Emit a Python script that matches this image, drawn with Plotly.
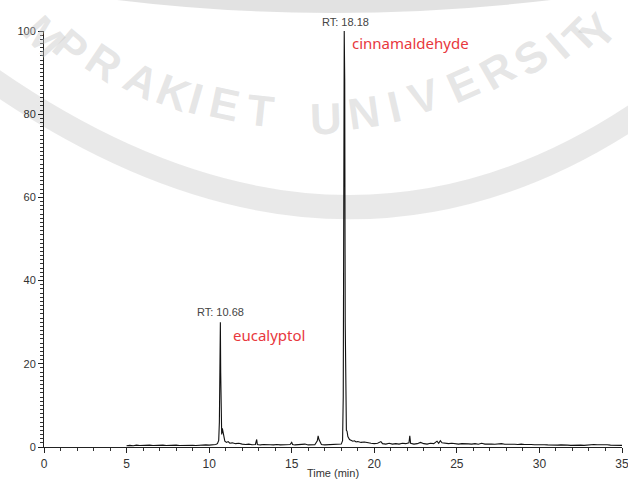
import plotly.graph_objects as go

# Retention time (min) and relative abundance (%)
time_min = [5.0, 5.2, 5.4, 5.6, 5.8, 6.0, 6.2, 6.4, 6.6, 6.8, 7.0, 7.2, 7.4, 7.6, 7.8,
            8.0, 8.2, 8.4, 8.6, 8.8, 9.0, 9.2, 9.4, 9.6, 9.8, 10.0, 10.2, 10.4, 10.5,
            10.58, 10.62, 10.66, 10.68, 10.70, 10.73, 10.76, 10.8, 10.84, 10.88, 10.95,
            11.05, 11.15, 11.25, 11.4, 11.6, 11.8, 12.0, 12.2, 12.4, 12.6, 12.8, 12.88,
            12.92, 13.1, 13.3, 13.5, 13.7, 13.9, 14.1, 14.3, 14.5, 14.7, 14.9, 15.0,
            15.05, 15.2, 15.4, 15.6, 15.8, 16.0, 16.2, 16.4, 16.55, 16.6, 16.65, 16.72,
            16.8, 17.0, 17.2, 17.4, 17.6, 17.8, 18.0, 18.08, 18.12, 18.15, 18.18, 18.21,
            18.24, 18.27, 18.31, 18.35, 18.4, 18.5, 18.6, 18.7, 18.8, 18.9, 19.0, 19.2,
            19.4, 19.6, 19.8, 20.0, 20.2, 20.4, 20.5, 20.7, 20.9, 21.1, 21.3, 21.5, 21.7,
            21.9, 22.1, 22.15, 22.2, 22.4, 22.6, 22.8, 23.0, 23.2, 23.4, 23.6, 23.8, 23.9,
            24.0, 24.1, 24.3, 24.5, 24.7, 24.9, 25.1, 25.3, 25.5, 25.7, 25.9, 26.1, 26.3,
            26.5, 26.7, 26.9, 27.1, 27.3, 27.5, 27.7, 27.9, 28.1, 28.3, 28.5, 28.7, 28.9,
            29.1, 29.3, 29.5, 29.7, 29.9, 30.1, 30.3, 30.5, 30.7, 30.9, 31.1, 31.3, 31.5,
            31.7, 31.9, 32.1, 32.3, 32.5, 32.7, 32.9, 33.1, 33.3, 33.5, 33.7, 33.9, 34.1,
            34.3, 34.5, 34.7, 35.0]
abundance = [0.3, 0.4, 0.3, 0.45, 0.35, 0.4, 0.3, 0.45, 0.35, 0.4, 0.3, 0.45, 0.35, 0.4, 0.3,
             0.45, 0.35, 0.4, 0.3, 0.45, 0.4, 0.35, 0.45, 0.4, 0.5, 0.45, 0.5, 0.6, 0.8,
             1.6, 6.0, 22.0, 30.0, 18.0, 6.0, 3.0, 4.5, 3.5, 2.2, 1.4,
             1.1, 1.3, 0.9, 1.0, 0.8, 0.9, 0.7, 0.6, 0.7, 0.55, 0.6, 1.8,
             0.6, 0.5, 0.6, 0.5, 0.55, 0.5, 0.6, 0.5, 0.55, 0.5, 0.6, 1.1,
             0.6, 0.5, 0.6, 0.55, 0.7, 0.5, 0.6, 0.55, 1.5, 2.7, 1.8, 1.0,
             0.6, 0.5, 0.55, 0.5, 0.6, 0.55, 0.7, 1.5, 12.0, 55.0, 100.0, 88.0,
             30.0, 8.0, 4.0, 3.8, 2.5, 1.8, 1.6, 1.4, 1.5, 1.2, 1.3, 1.1,
             1.2, 1.0, 0.9, 0.8, 0.9, 1.3, 0.8, 0.7, 0.9, 0.7, 0.8, 0.7, 0.9,
             0.8, 1.0, 2.7, 0.9, 0.7, 0.8, 1.1, 0.8, 0.7, 0.9, 0.8, 1.4, 0.9,
             1.5, 1.0, 0.9, 0.8, 0.9, 0.8, 0.7, 0.8, 0.7, 0.75, 0.7, 0.8, 0.65,
             0.9, 0.7, 0.75, 0.7, 0.65, 0.7, 0.8, 0.65, 0.7, 0.6, 0.65, 0.6, 0.7,
             0.6, 0.65, 0.6, 0.55, 0.6, 0.5, 0.55, 0.5, 0.45, 0.5, 0.45, 0.5, 0.4,
             0.45, 0.4, 0.45, 0.4, 0.45, 0.4, 0.5, 0.55, 0.6, 0.55, 0.6, 0.5, 0.55,
             0.45, 0.4, 0.45, 0.4]

x_tick_step = 5
y_tick_step = 20

peak_rt = [10.68, 18.18]
peak_height = [30, 100]
peak_labels = ["RT: 10.68", "RT: 18.18"]
peak_names = ["eucalyptol", "cinnamaldehyde"]

# layout geometry (pixels)
W, H = 628, 479
L, R, T, B = 44, 6, 31, 32
pw, ph = W - L - R, H - T - B


def px(x):
    return (x - L) / pw


def py(y):
    return (H - B - y) / ph


fig = go.Figure()
fig.add_trace(go.Scatter(x=time_min, y=abundance, mode="lines",
                         line=dict(color="#111111", width=1.1), hoverinfo="skip"))

annotations = []
# faint watermark letters (drawn first so they sit underneath)
wm = [("M", 44, 36, 48), ("P", 70, 47, 40), ("R", 104, 63, 34), ("A", 142, 80, 27),
      ("K", 174, 92, 21), ("I", 196, 98, 16), ("E", 224, 103, 12), ("T", 260, 110, 6),
      ("U", 326, 118, -2), ("N", 364, 113, -8), ("I", 394, 106, -13), ("V", 424, 96, -18),
      ("E", 462, 84, -24), ("R", 497, 70, -30), ("S", 530, 57, -36), ("I", 558, 46, -41),
      ("T", 580, 36, -45), ("Y", 598, 32, -50)]
for ch, x, y, a in wm:
    annotations.append(dict(x=px(x), y=py(y), xref="paper", yref="paper", text="<b>" + ch + "</b>",
                            showarrow=False, textangle=a, xanchor="center", yanchor="middle",
                            font=dict(family="Liberation Sans", size=44, color="rgba(195,195,195,0.42)")))

# RT labels
annotations.append(dict(x=peak_rt[0], y=peak_height[0] + 0.6, xref="x", yref="y",
                        text=peak_labels[0], showarrow=False, xanchor="center", yanchor="bottom",
                        font=dict(family="Liberation Sans", size=11, color="#444444")))
annotations.append(dict(x=peak_rt[1] + 0.05, y=py(30), xref="x", yref="paper",
                        text=peak_labels[1], showarrow=False, xanchor="center", yanchor="bottom",
                        font=dict(family="Liberation Sans", size=11, color="#444444")))
annotations.append(dict(x=11.35, y=26.9, xref="x", yref="y", text=peak_names[0],
                        showarrow=False, xanchor="left", yanchor="middle",
                        font=dict(family="Noto Sans", size=15, color="#e8383d")))
annotations.append(dict(x=18.5, y=97.1, xref="x", yref="y", text=peak_names[1],
                        showarrow=False, xanchor="left", yanchor="middle",
                        font=dict(family="Noto Sans", size=15, color="#e8383d")))

shapes = [
    dict(type="path", xref="paper", yref="paper", layer="below",
         path=f"M {px(-10)},{py(78)} Q {px(335)},{py(318)} {px(640)},{py(112)}",
         line=dict(color="rgba(200,200,200,0.4)", width=24)),
    dict(type="path", xref="paper", yref="paper", layer="below",
         path=f"M {px(60)},{py(-16)} Q {px(330)},{py(26)} {px(610)},{py(-16)}",
         line=dict(color="rgba(190,190,190,0.45)", width=16)),
]

fig.update_layout(
    width=W, height=H,
    margin=dict(l=L, r=R, t=T, b=B),
    paper_bgcolor="white", plot_bgcolor="rgba(0,0,0,0)",
    showlegend=False,
    annotations=annotations,
    shapes=shapes,
    font=dict(family="Liberation Sans", size=11, color="#333333"),
)
fig.update_xaxes(
    range=[0, 35], tickmode="linear", tick0=0, dtick=x_tick_step,
    showgrid=False, zeroline=False, showline=True, linecolor="#222222", linewidth=1,
    ticks="outside", ticklen=5, tickcolor="#222222", tickwidth=1,
    minor=dict(tickmode="linear", tick0=0, dtick=1, ticks="outside", ticklen=3,
               tickcolor="#333333", tickwidth=1, showgrid=False),
    tickfont=dict(family="Liberation Sans", size=12, color="#333333"),
    ticklabelstandoff=1, ticklabeloverflow="allow", automargin=False,
    title=dict(text="Time (min)", standoff=0,
               font=dict(family="Liberation Sans", size=11, color="#333333")),
)
fig.update_yaxes(
    range=[0, 100], tickmode="linear", tick0=0, dtick=y_tick_step,
    showgrid=False, zeroline=False, showline=True, linecolor="#222222", linewidth=1,
    ticks="outside", ticklen=5, tickcolor="#222222", tickwidth=1,
    minor=dict(tickmode="linear", tick0=0, dtick=1, ticks="outside", ticklen=3,
               tickcolor="#333333", tickwidth=1, showgrid=False),
    tickfont=dict(family="Liberation Sans", size=11, color="#333333"),
    automargin=False,
)

fig.write_html("out.html")
